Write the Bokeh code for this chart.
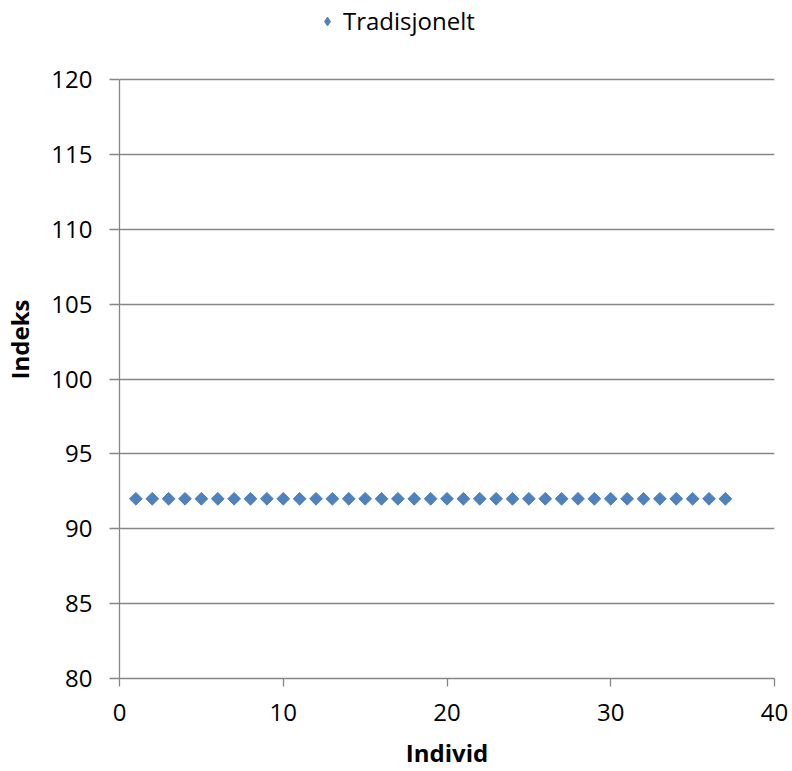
import math
from bokeh.plotting import figure
from bokeh.models import Range1d, Legend, FixedTicker
from bokeh.embed import file_html
from bokeh.resources import INLINE

individ = list(range(1, 38))
indeks = [92] * 37
series_name = "Tradisjonelt"
x_ticks = [0, 10, 20, 30, 40]
y_ticks = [80, 85, 90, 95, 100, 105, 110, 115, 120]

FONT = "Open Sans"
GRAY = "#868686"
BLUE = "#4F81BD"

# layout: plot area from y=79 to y=678 px shows 80..120; the frame is extended
# upwards to the top of the page so the legend can sit inside it
Y_MIN, Y_MAX = 80, 120
FRAME_TOP_PX, AXIS_TOP_PX, FRAME_BOTTOM_PX = 0, 79, 678
y_end = Y_MIN + (Y_MAX - Y_MIN) * (FRAME_BOTTOM_PX - FRAME_TOP_PX) / (FRAME_BOTTOM_PX - AXIS_TOP_PX)

p = figure(width=792, height=771, output_backend="svg", toolbar_location=None, title=None,
           x_range=Range1d(0, 40), y_range=Range1d(Y_MIN, y_end),
           min_border_left=119, min_border_right=18, min_border_top=0, min_border_bottom=93)
p.outline_line_color = None
p.background_fill_color = "white"
p.border_fill_color = "white"

r = p.scatter(individ, indeks, marker="square", size=9, angle=math.pi / 4,
              fill_color=BLUE, line_color=BLUE)
# legend key proxy (a single missing value, draws nothing in the plot)
proxy = p.scatter(x=[float("nan")], y=[float("nan")], marker="diamond", size=8,
                  fill_color=BLUE, line_color=BLUE)

p.xgrid.grid_line_color = None
p.ygrid.grid_line_color = GRAY
p.ygrid.grid_line_width = 1.3
p.ygrid.ticker = FixedTicker(ticks=y_ticks)

for ax in (p.xaxis[0], p.yaxis[0]):
    ax.axis_line_color = GRAY
    ax.axis_line_width = 1.3
    ax.major_tick_line_color = GRAY
    ax.major_tick_line_width = 1.3
    ax.minor_tick_line_color = None
    ax.major_tick_in = 0
    ax.major_label_text_font = FONT
    ax.major_label_text_font_size = "24px"
    ax.major_label_text_color = "black"
    ax.axis_label_text_font = FONT
    ax.axis_label_text_font_size = "24px"
    ax.axis_label_text_font_style = "bold"
    ax.axis_label_text_color = "black"
    ax.axis_label_text_line_height = 0.8

p.xaxis.ticker = FixedTicker(ticks=x_ticks)
p.yaxis.ticker = FixedTicker(ticks=y_ticks)
p.yaxis.bounds = (Y_MIN, Y_MAX)
p.xaxis.major_tick_out = 8
p.yaxis.major_tick_out = 10
p.xaxis.major_label_standoff = 17
p.yaxis.major_label_standoff = 17
p.xaxis.axis_label = "Individ"
p.yaxis.axis_label = "Indeks"
p.xaxis.axis_label_standoff = 12
p.yaxis.axis_label_standoff = 12

legend = Legend(items=[(series_name, [proxy])], location=(197, 641),
                border_line_color=None, background_fill_alpha=0,
                label_text_font=FONT, label_text_font_size="24px", label_text_color="black",
                glyph_width=22, glyph_height=22, label_standoff=5, padding=0, margin=0)
p.add_layout(legend)

open("out.html", "w").write(file_html(p, INLINE))
